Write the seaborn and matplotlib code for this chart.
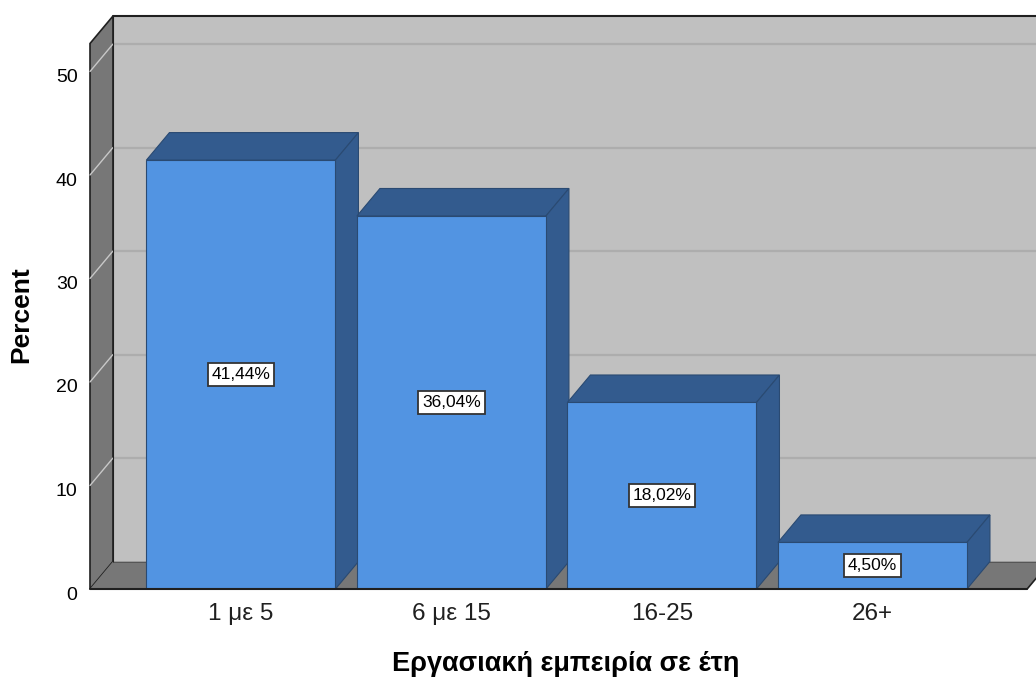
import numpy as np
import pandas as pd
import seaborn as sns
import matplotlib.pyplot as plt
import matplotlib.transforms as mtransforms
from matplotlib.patches import Polygon

# -------------------------------
# Data
# -------------------------------
categories = ["1 με 5", "6 με 15", "16-25", "26+"]
percents = [41.44, 36.04, 18.02, 4.50]
bar_labels = ["41,44%", "36,04%", "18,02%", "4,50%"]
y_ticks = [0, 10, 20, 30, 40, 50]

# -------------------------------
# Style
# -------------------------------
front_col = "#5294e2"
dark_col = "#335b8e"
wall_col = "#c0c0c0"
side_col = "#777777"
grid_col = "#adadad"

sns.set_style("white")
plt.rcParams['font.family'] = ['Liberation Sans', 'DejaVu Sans']
plt.rcParams['text.color'] = 'black'
plt.rcParams['axes.labelcolor'] = 'black'
plt.rcParams['xtick.color'] = 'black'
plt.rcParams['ytick.color'] = 'black'

fig = plt.figure(figsize=(10.36, 6.82), dpi=100)
W, H = 1036, 682
# front plane: x from px 90, y=0 at px 589
x_left, x_right = -0.717, 3.777
y_top = 573 / 10.35
ax = fig.add_axes([90 / W, (H - 589) / H, (W - 90) / W, (589 - 16) / H])
ax.set_xlim(x_left, x_right)
ax.set_ylim(0, y_top)

# depth offsets (data units)
dx = 23 / 210.5
dy = 27.5 / 10.35
x_floor_end = 3.735  # front right edge of floor

# back wall
ax.add_patch(Polygon([(x_left + dx, dy), (x_right + 1, dy), (x_right + 1, y_top),
                      (x_left + dx, y_top)], closed=True, fc=wall_col, ec="none",
                     zorder=0, clip_on=False))
for v in y_ticks[1:]:
    ax.plot([x_left + dx, x_right + 1], [v + dy, v + dy], color=grid_col, lw=1.6,
            zorder=0.5, clip_on=False)

# left wall
wall_top = y_top - dy
ax.add_patch(Polygon([(x_left, 0), (x_left + dx, dy), (x_left + dx, y_top), (x_left, wall_top)],
                     closed=True, fc=side_col, ec="#202020", lw=1.2, zorder=1, clip_on=False))
for v in y_ticks[1:]:
    ax.plot([x_left, x_left + dx], [v, v + dy], color="#c8c8c8", lw=1.0, zorder=1.1,
            clip_on=False)
ax.plot([x_left + dx, x_right + 1], [y_top, y_top], color="#202020", lw=1.5, zorder=1.2,
        clip_on=False)

# floor
ax.add_patch(Polygon([(x_left, 0), (x_floor_end, 0), (x_floor_end + dx, dy), (x_left + dx, dy)],
                     closed=True, fc=side_col, ec="none", zorder=1, clip_on=False))
ax.plot([x_left + dx, x_left + dx], [dy, y_top], color="#202020", lw=0.8, zorder=1.2)
ax.plot([x_left + dx, x_right + 1], [dy, dy], color="#505050", lw=0.6, zorder=1.2,
        clip_on=False)
ax.plot([x_floor_end, x_floor_end + dx], [0, dy], color="#202020", lw=1.2, zorder=1.2,
        clip_on=False)

# front faces of bars
df = pd.DataFrame({"cat": categories, "pct": percents})
sns.barplot(data=df, x="cat", y="pct", color=front_col, saturation=1, width=0.898,
            edgecolor="#2a4a72", linewidth=0.8, ax=ax, zorder=3)
ax.set_xlim(x_left, x_right)
ax.set_ylim(0, y_top)

for p, lab in zip(ax.containers[0], bar_labels):
    x0 = p.get_x()
    x1 = x0 + p.get_width()
    h = p.get_height()
    # top face
    ax.add_patch(Polygon([(x0, h), (x1, h), (x1 + dx, h + dy), (x0 + dx, h + dy)],
                         closed=True, fc=dark_col, ec="#2a4a72", lw=0.8, zorder=2.5))
    # side face
    ax.add_patch(Polygon([(x1, 0), (x1 + dx, dy), (x1 + dx, h + dy), (x1, h)],
                         closed=True, fc=dark_col, ec="#2a4a72", lw=0.8, zorder=2.5))
    ax.text(x0 + p.get_width() / 2, h / 2, lab, ha="center", va="center", fontsize=12.5,
            zorder=5, bbox=dict(boxstyle="square,pad=0.22", fc="white", ec="#333333", lw=1.3))

# front axis line
ax.plot([x_left, x_floor_end], [0, 0], color="#202020", lw=1.5, zorder=4, clip_on=False)

for s in ax.spines.values():
    s.set_visible(False)
ax.set_yticks(y_ticks)
ax.set_yticklabels([str(v) for v in y_ticks], fontsize=14)
ax.tick_params(axis="y", length=0, pad=9)
ax.tick_params(axis="x", length=0, pad=10, labelsize=17.5)
shift = mtransforms.ScaledTranslation(0, -4 / 100, fig.dpi_scale_trans)
for t in ax.get_yticklabels():
    t.set_transform(t.get_transform() + shift)
for t in ax.get_xticklabels():
    t.set_color("#202020")
ax.set_xlabel("Εργασιακή εμπειρία σε έτη", fontsize=19.5, fontweight="bold")
ax.set_ylabel("Percent", fontsize=19, fontweight="bold")
ax.yaxis.set_label_coords((33 - 90) / (W - 90), (589 - 315) / (589 - 16))
ax.xaxis.set_label_coords((566 - 90) / (W - 90), -(651 - 589) / (589 - 16))
ax.set_facecolor("white")

fig.savefig("out.png", dpi=100)
